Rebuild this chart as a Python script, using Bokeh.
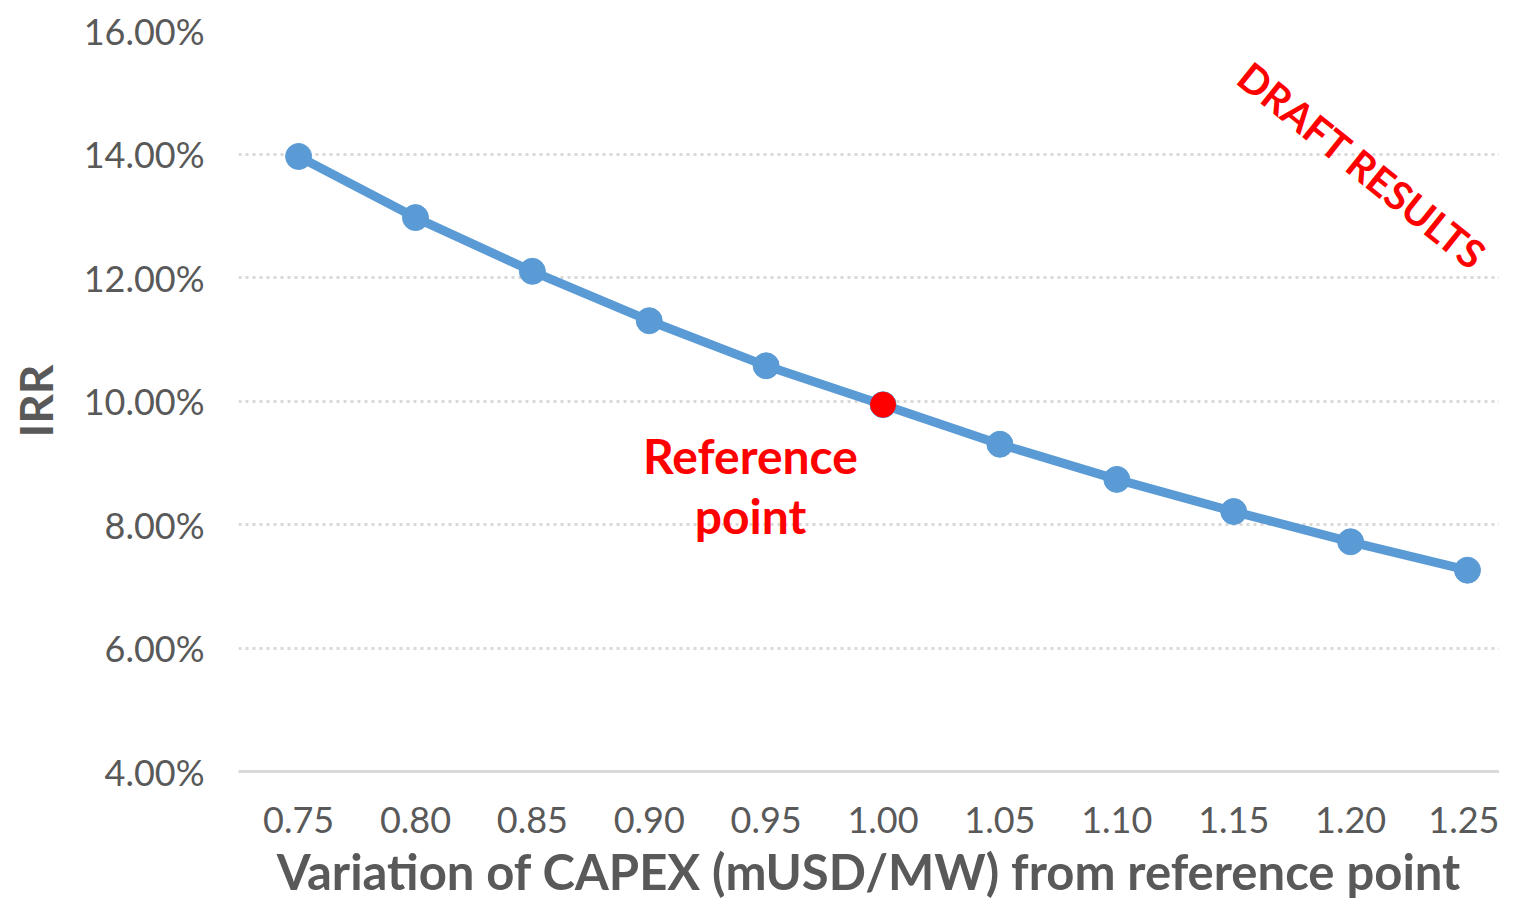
from bokeh.plotting import figure
from bokeh.models import Range1d, FixedTicker, PrintfTickFormatter, Label
from bokeh.embed import file_html
from bokeh.resources import INLINE

capex = [0.75, 0.80, 0.85, 0.90, 0.95, 1.00, 1.05, 1.10, 1.15, 1.20, 1.25]
irr = [13.96, 12.97, 12.10, 11.30, 10.57, 9.94, 9.30, 8.73, 8.21, 7.72, 7.26]
ref_x = [1.00]
ref_y = [9.94]
y_ticks = [4, 6, 8, 10, 12, 14, 16]

FONT = "Lato"
GREY = "#595959"
BLUE = "#5B9BD5"
RED = "#FF0000"

p = figure(width=1499, height=902, output_backend="svg", toolbar_location=None,
           x_range=Range1d(0.7243, 1.2637), y_range=Range1d(4, 16),
           min_border_left=238, min_border_right=0, min_border_top=30, min_border_bottom=131)
p.outline_line_color = None
p.background_fill_color = "white"

p.xaxis.ticker = FixedTicker(ticks=capex)
p.xaxis.formatter = PrintfTickFormatter(format="%.2f")
p.yaxis.ticker = FixedTicker(ticks=y_ticks)
p.yaxis.formatter = PrintfTickFormatter(format="%.2f%%")

for ax in (p.xaxis[0], p.yaxis[0]):
    ax.major_tick_line_color = None
    ax.minor_tick_line_color = None
    ax.major_label_text_font = FONT
    ax.major_label_text_color = GREY
    ax.major_label_text_font_size = "36px"
    ax.axis_label_text_font = FONT
    ax.axis_label_text_color = GREY
    ax.axis_label_text_font_style = "bold"

p.yaxis.axis_line_color = None
p.yaxis.major_label_standoff = 28
p.yaxis.axis_label = "IRR"
p.yaxis.axis_label_text_font_size = "46px"
p.yaxis.axis_label_standoff = 18

p.xaxis.axis_line_color = "#d9d9d9"
p.xaxis.axis_line_width = 3
p.xaxis.major_label_standoff = 29
p.xaxis.axis_label = "Variation of CAPEX (mUSD/MW) from reference point"
p.xaxis.axis_label_text_font_size = "49px"
p.xaxis.axis_label_standoff = 6

p.xgrid.grid_line_color = None
p.ygrid.grid_line_color = "#d9d9d9"
p.ygrid.grid_line_width = 3
p.ygrid.grid_line_dash = "3 4"

p.line(capex, irr, line_color=BLUE, line_width=9)
p.scatter(capex, irr, size=26, fill_color=BLUE, line_color=BLUE)
p.scatter(ref_x, ref_y, size=25, fill_color=RED, line_color=RED)

for txt, yy in (("Reference", 9.12), ("point", 8.15)):
    p.add_layout(Label(x=0.9433, y=yy, text=txt, text_font=FONT, text_font_style="bold",
                       text_font_size="48px", text_color=RED, text_align="center",
                       text_baseline="middle"))

p.add_layout(Label(x=1.205, y=13.81, text="DRAFT RESULTS", text_font=FONT,
                   text_font_style="bold", text_font_size="40px", text_color=RED,
                   text_align="center", text_baseline="middle", angle=-0.675))

open("out.html", "w").write(file_html(p, INLINE))
